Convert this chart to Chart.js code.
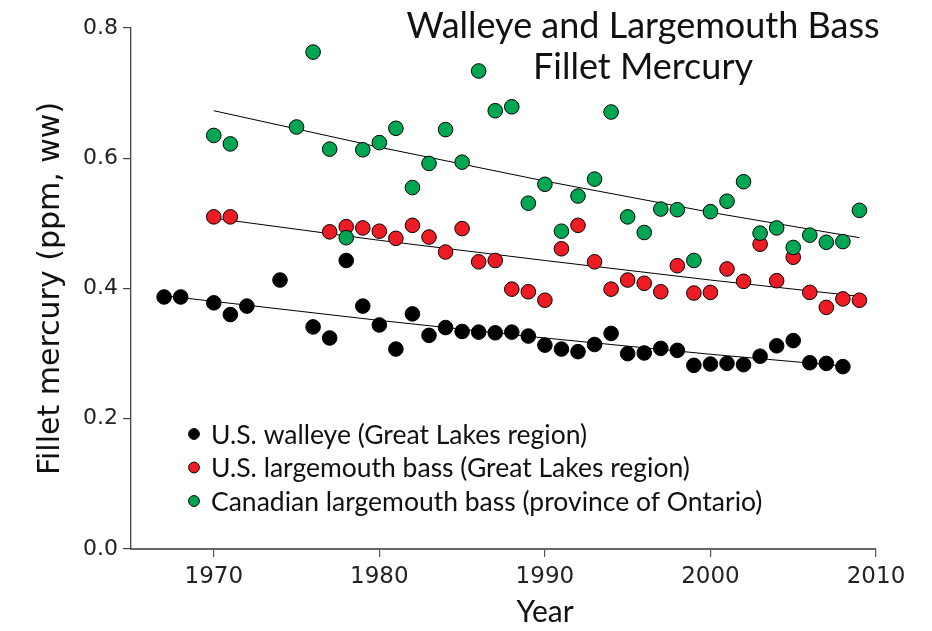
<!DOCTYPE html>
<html>
<head>
<meta charset="utf-8">
<script src="https://cdn.jsdelivr.net/npm/chart.js@4.4.1/dist/chart.umd.min.js"></script>
<style>
  html, body { margin: 0; padding: 0; background: #fff; }
  #wrap { width: 932px; height: 631px; position: relative; }
</style>
</head>
<body>
<div id="wrap"><canvas id="c" width="932" height="631"></canvas></div>
<script>
// ---- Data ----
const chartTitle = ["Walleye and Largemouth Bass", "Fillet Mercury"];
const xAxisTitle = "Year";
const yAxisTitle = "Fillet mercury (ppm, ww)";
const xTickLabels = [1970, 1980, 1990, 2000, 2010];
const yTickLabels = [0.0, 0.2, 0.4, 0.6, 0.8];

const seriesNames = [
  "U.S. walleye (Great Lakes region)",
  "U.S. largemouth bass (Great Lakes region)",
  "Canadian largemouth bass (province of Ontario)"
];

const walleyeYears = [1967,1968,1970,1971,1972,1974,1976,1977,1978,1979,1980,1981,1982,1983,1984,1985,1986,1987,1988,1989,1990,1991,1992,1993,1994,1995,1996,1997,1998,1999,2000,2001,2002,2003,2004,2005,2006,2007,2008];
const walleyeValues = [0.387,0.387,0.378,0.360,0.373,0.413,0.341,0.324,0.443,0.373,0.344,0.307,0.361,0.328,0.340,0.334,0.333,0.332,0.333,0.327,0.313,0.307,0.303,0.314,0.331,0.300,0.301,0.308,0.305,0.282,0.284,0.285,0.283,0.296,0.312,0.320,0.286,0.285,0.280];

const usBassYears = [1970,1971,1977,1978,1979,1980,1981,1982,1983,1984,1985,1986,1987,1988,1989,1990,1991,1992,1993,1994,1995,1996,1997,1998,1999,2000,2001,2002,2003,2004,2005,2006,2007,2008,2009];
const usBassValues = [0.510,0.510,0.487,0.495,0.493,0.488,0.477,0.497,0.479,0.456,0.492,0.441,0.443,0.399,0.395,0.382,0.461,0.497,0.441,0.399,0.413,0.408,0.395,0.435,0.393,0.394,0.430,0.411,0.468,0.412,0.448,0.394,0.371,0.384,0.382];

const caBassYears = [1970,1971,1975,1976,1977,1978,1979,1980,1981,1982,1983,1984,1985,1986,1987,1988,1989,1990,1991,1992,1993,1994,1995,1996,1997,1998,1999,2000,2001,2002,2003,2004,2005,2006,2007,2008,2009];
const caBassValues = [0.635,0.622,0.648,0.763,0.614,0.478,0.613,0.624,0.646,0.555,0.592,0.644,0.594,0.734,0.673,0.679,0.531,0.560,0.488,0.542,0.568,0.671,0.510,0.486,0.522,0.521,0.443,0.518,0.534,0.564,0.485,0.493,0.463,0.482,0.471,0.472,0.520];

// Trend lines
const walleyeTrendYears = [1967,1980,1990,2000,2008];
const walleyeTrendValues = [0.389,0.351,0.324,0.299,0.281];
const usBassTrendYears = [1970,1980,1990,2000,2009];
const usBassTrendValues = [0.508,0.474,0.443,0.413,0.388];
const caBassTrendYears = [1970,1980,1990,2000,2009];
const caBassTrendValues = [0.673,0.617,0.565,0.517,0.478];

// ---- Helpers ----
const pts = (xs, ys) => xs.map((x, i) => ({ x: x, y: ys[i] }));
const colBlack = '#000000', colRed = '#ED1C24', colGreen = '#00A651';
const humanistFont = 'Lato, "Open Sans", sans-serif';
const axisFont = '"DejaVu Sans", Verdana, sans-serif';

function scatterSet(label, xs, ys, color, order) {
  return {
    type: 'scatter', label: label, data: pts(xs, ys), order: order,
    backgroundColor: color, borderColor: '#000', borderWidth: 1,
    pointRadius: 7.3, pointHoverRadius: 7.3, showLine: false
  };
}
function trendSet(xs, ys) {
  return {
    type: 'line', label: '_trend', data: pts(xs, ys), order: 5,
    borderColor: '#000', borderWidth: 1, pointRadius: 0, fill: false, tension: 0
  };
}

const overlay = {
  id: 'overlay',
  afterDraw(chart) {
    const ctx = chart.ctx;
    ctx.save();
    // title
    ctx.fillStyle = '#111';
    ctx.textAlign = 'center';
    ctx.textBaseline = 'middle';
    ctx.font = '36px ' + humanistFont;
    ctx.fillText(chartTitle[0], 643, 26);
    ctx.fillText(chartTitle[1], 643, 67);
    // x axis title
    ctx.font = '30px ' + humanistFont;
    ctx.fillText(xAxisTitle, 545, 612);
    // legend
    const legendSets = [0, 1, 2].map(i => chart.data.datasets.find(d => d.label === seriesNames[i]));
    ctx.textAlign = 'left';
    ctx.font = '26.5px ' + humanistFont;
    legendSets.forEach((ds, i) => {
      const y = 434 + i * 33.5;
      ctx.beginPath();
      ctx.arc(194, y, 5.4, 0, Math.PI * 2);
      ctx.fillStyle = ds.backgroundColor;
      ctx.fill();
      ctx.lineWidth = 1;
      ctx.strokeStyle = '#000';
      ctx.stroke();
      ctx.fillStyle = '#111';
      ctx.fillText(ds.label, 211, y + 1);
    });
    ctx.restore();
  }
};

new Chart(document.getElementById('c'), {
  data: {
    datasets: [
      scatterSet(seriesNames[2], caBassYears, caBassValues, colGreen, 0),
      scatterSet(seriesNames[1], usBassYears, usBassValues, colRed, 1),
      scatterSet(seriesNames[0], walleyeYears, walleyeValues, colBlack, 2),
      trendSet(walleyeTrendYears, walleyeTrendValues),
      trendSet(usBassTrendYears, usBassTrendValues),
      trendSet(caBassTrendYears, caBassTrendValues)
    ]
  },
  options: {
    responsive: false,
    animation: false,
    layout: { padding: { top: 28, right: 56, left: 0, bottom: 0 } },
    plugins: { legend: { display: false }, tooltip: { enabled: false }, title: { display: false } },
    scales: {
      x: {
        type: 'linear', min: 1965, max: 2010,
        afterBuildTicks: (s) => { s.ticks = xTickLabels.map(v => ({ value: v })); },
        afterFit: (s) => { s.height = 82; },
        grid: { display: true, drawOnChartArea: false, drawTicks: true, tickLength: 8, color: '#555', lineWidth: 1.2 },
        border: { display: true, color: '#666', width: 2 },
        ticks: { color: '#222', font: { family: axisFont, size: 23 }, padding: 6, maxRotation: 0,
                 callback: (v) => String(v) },
        title: { display: false }
      },
      y: {
        type: 'linear', min: 0, max: 0.8,
        afterBuildTicks: (s) => { s.ticks = yTickLabels.map(v => ({ value: v })); },
        afterFit: (s) => { s.width = 131; },
        grid: { display: true, drawOnChartArea: false, drawTicks: true, tickLength: 8, color: '#444', lineWidth: 1.2 },
        border: { display: true, color: '#444', width: 1.3 },
        ticks: { color: '#222', font: { family: axisFont, size: 22 }, padding: 5,
                 callback: (v) => Number(v).toFixed(1) },
        title: { display: true, text: yAxisTitle, color: '#111', font: { family: axisFont, size: 30 }, padding: { top: 33, bottom: 0 } }
      }
    }
  },
  plugins: [overlay]
});
</script>
</body>
</html>
